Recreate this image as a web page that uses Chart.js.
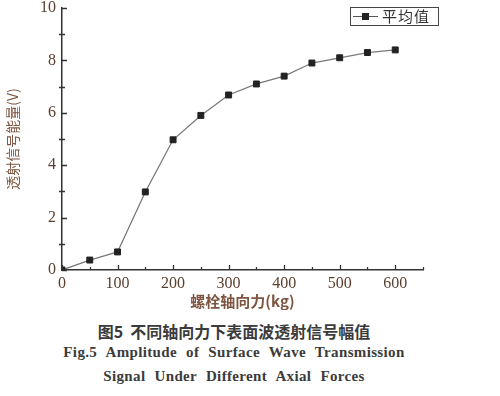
<!DOCTYPE html>
<html>
<head>
<meta charset="utf-8">
<script src="https://cdn.jsdelivr.net/npm/chart.js@4/dist/chart.umd.min.js"></script>
<style>
  html, body { margin: 0; padding: 0; background: #fff; }
  #wrap { position: relative; width: 500px; height: 396px; overflow: hidden; }
  #chartBox { position: absolute; left: 0; top: 0; width: 500px; height: 310px; }
  .legend {
    position: absolute; left: 350px; top: 7px; width: 87px; height: 17px;
    border: 1px solid #444; background: #fff;
    font: 15px "Noto Sans CJK SC", sans-serif; color: #333; line-height: 17px;
  }
  .legend .seg { position: absolute; top: 8px; height: 1px; width: 9px; background: #555; }
  .legend .sq { position: absolute; top: 5px; left: 11px; width: 7px; height: 7px; background: #222; }
  .legend .txt { position: absolute; left: 31px; top: -1px; letter-spacing: 1px; }
  .cap { position: absolute; left: 0; width: 468px; text-align: center; color: #3b3b3b; white-space: nowrap; }
  .cap.cn { top: 319px; font: bold 16px "Noto Sans CJK SC", sans-serif; }
  .cap.en1 { top: 344px; font: bold 15px "Liberation Serif", "DejaVu Serif", serif; word-spacing: 5px; letter-spacing: 0.35px; }
  .cap.en2 { top: 368px; font: bold 15px "Liberation Serif", "DejaVu Serif", serif; word-spacing: 5px; letter-spacing: 0.35px; }
</style>
</head>
<body>
<div id="wrap">
  <div id="chartBox"><canvas id="chart"></canvas></div>
  <div class="legend">
    <span class="seg" style="left:2px"></span><span class="sq"></span><span class="seg" style="left:18px"></span>
    <span class="txt">平均值</span>
  </div>
  <div class="cap cn">图5&nbsp;&nbsp;不同轴向力下表面波透射信号幅值</div>
  <div class="cap en1">Fig.5 Amplitude of Surface Wave Transmission</div>
  <div class="cap en2">Signal Under Different Axial Forces</div>
</div>
<script>
// data
const forces = [0, 50, 100, 150, 200, 250, 300, 350, 400, 450, 500, 550, 600];
const amplitude = [0, 0.38, 0.69, 2.98, 4.97, 5.9, 6.68, 7.1, 7.4, 7.9, 8.1, 8.3, 8.4];
const seriesName = '平均值';
const xTitle = '螺栓轴向力(kg)';
const yTitle = '透射信号能量(V)';

const axisColor = '#333';
const labelColor = '#5b3f2e';
const titleColor = '#7d5540';

// inward major ticks, minor ticks like the original plot
const tickMarks = {
  id: 'tickMarks',
  afterDraw(chart) {
    const ctx = chart.ctx;
    const xs = chart.scales.x, ys = chart.scales.y;
    const x0 = xs.left, y0 = ys.bottom;
    ctx.save();
    ctx.strokeStyle = axisColor;
    ctx.lineWidth = 1.3;
    ctx.beginPath();
    for (let v = 0; v <= 650; v += 50) {
      const px = Math.round(xs.getPixelForValue(v)) + 0.5;
      const len = v % 100 === 0 ? 5 : 3;
      ctx.moveTo(px, y0);
      ctx.lineTo(px, y0 - len);
    }
    for (let v = 0; v <= 10; v += 1) {
      const py = Math.round(ys.getPixelForValue(v)) + 0.5;
      if (v % 2 === 0) {
        ctx.moveTo(x0, py);
        ctx.lineTo(x0 + 5, py);
      } else {
        ctx.moveTo(x0 - 3, py);
        ctx.lineTo(x0 + 3, py);
      }
    }
    ctx.stroke();
    ctx.restore();
  }
};

new Chart(document.getElementById('chart'), {
  type: 'line',
  data: {
    datasets: [{
      label: seriesName,
      data: forces.map((f, i) => ({ x: f, y: amplitude[i] })),
      borderColor: '#7a7a7a',
      borderWidth: 1.3,
      pointStyle: 'rect',
      pointRadius: 4.2,
      pointBackgroundColor: '#222',
      pointBorderColor: '#222',
      pointBorderWidth: 1,
      tension: 0
    }]
  },
  options: {
    responsive: true,
    maintainAspectRatio: false,
    animation: false,
    layout: { padding: { left: 4, right: 77, top: 8, bottom: 0 } },
    plugins: {
      legend: { display: false },
      tooltip: { enabled: false }
    },
    scales: {
      x: {
        type: 'linear',
        min: 0,
        max: 650,
        afterFit: s => { s.height = 40; s.paddingLeft = 0; s.paddingRight = 0; },
        grid: { display: false, drawTicks: false },
        border: { display: true, color: axisColor, width: 1.5 },
        ticks: {
          stepSize: 100,
          includeBounds: false,
          autoSkip: false,
          padding: 4,
          color: labelColor,
          font: { family: '"Liberation Serif", "DejaVu Serif", serif', size: 16 }
        },
        title: {
          display: true,
          text: xTitle,
          color: titleColor,
          padding: { top: 0, bottom: 0 },
          font: { family: '"Noto Sans CJK SC", sans-serif', size: 15, weight: 'bold' }
        }
      },
      y: {
        min: 0,
        max: 10,
        afterFit: s => { s.width = 58; s.paddingTop = 0; s.paddingBottom = 0; },
        grid: { display: false, drawTicks: false },
        border: { display: true, color: axisColor, width: 1.5 },
        ticks: {
          stepSize: 2,
          padding: 6,
          color: labelColor,
          font: { family: '"Liberation Serif", "DejaVu Serif", serif', size: 16 }
        },
        title: {
          display: true,
          text: yTitle,
          color: titleColor,
          padding: { top: 0, bottom: 6 },
          font: { family: '"Noto Sans CJK SC", sans-serif', size: 14 }
        }
      }
    }
  },
  plugins: [tickMarks]
});
</script>
</body>
</html>
